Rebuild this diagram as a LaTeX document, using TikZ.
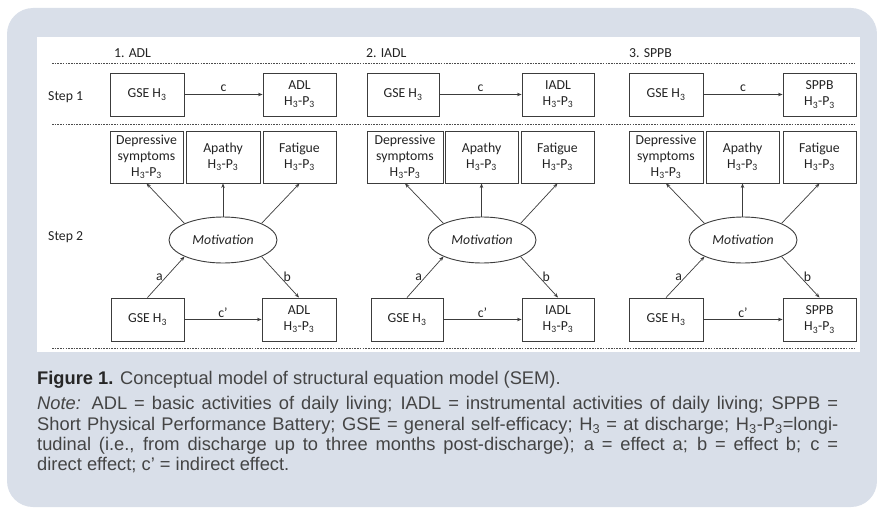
\documentclass[tikz,border=0pt]{standalone}
\usepackage{fontspec}
\setmainfont{Carlito}
\newfontfamily\capfont{Liberation Sans}
\usetikzlibrary{arrows.meta,shapes.geometric}
\definecolor{panelbg}{RGB}{217,223,233}
\definecolor{lncol}{RGB}{60,60,60}
\definecolor{txtcol}{RGB}{35,35,35}
\definecolor{capcol}{RGB}{68,68,68}
\newcommand{\sbs}[1]{\textsubscript{#1}}
\newcommand{\HP}{H\sbs{3}-P\sbs{3}}
\begin{document}
\begin{tikzpicture}[x=1pt,y=-1pt,
  bx/.style={draw=lncol, line width=0.9pt, fill=white, inner sep=0pt, align=center, text=txtcol, font=\fontsize{13.75}{16}\selectfont},
  ell/.style={ellipse, draw=lncol, line width=0.9pt, fill=white, inner sep=0pt, text=txtcol, font=\fontsize{13.75}{16}\selectfont\itshape, minimum width=108pt, minimum height=46pt},
  lbl/.style={text=txtcol, font=\fontsize{13.75}{16}\selectfont, inner sep=0pt},
  arr/.style={-{Stealth[length=4.5pt,width=3.5pt]}, draw=lncol, line width=0.7pt},
  sepline/.style={draw=black!70, line width=0.7pt, dash pattern=on 1.6pt off 1.1pt},
  s1/.style={bx, minimum height=43pt},
  s2/.style={bx, minimum height=52pt}]
\useasboundingbox (0,0) rectangle (877,508);
\fill[panelbg, rounded corners=26pt] (7,8) rectangle (877,507);
\fill[white] (37,37) rectangle (860,352);
\draw[sepline] (52,63) -- (855,63);
\draw[sepline] (52,124) -- (855,124);
\draw[sepline] (52,348) -- (855,348);
% headings
\node[lbl, anchor=west] (h1) at (114,53) {1. ADL};
\node[lbl, anchor=west] (h2) at (366,53) {2. IADL};
\node[lbl, anchor=west] (h3) at (629,53) {3. SPPB};
\node[lbl, anchor=west] (st1) at (48,97) {Step 1};
\node[lbl, anchor=west] (st2) at (48,237) {Step 2};
% ---- column 1
\node[s1, minimum width=74pt] (g1) at (147,94.5) {GSE H\sbs{3}};
\node[s1, minimum width=73pt] (o1) at (299.5,94.5) {ADL\\\HP};
\node[s2, minimum width=73pt] (d1) at (146.5,157) {Depressive\\symptoms\\\HP};
\node[s2, minimum width=74pt] (p1) at (223,157) {Apathy\\\HP};
\node[s2, minimum width=73pt] (f1) at (299.5,157) {Fatigue\\\HP};
\node[ell] (m1) at (223,240) {Motivation};
\node[s1, minimum width=73pt] (g1b) at (147.5,319.5) {GSE H\sbs{3}};
\node[s1, minimum width=74pt] (o1b) at (299,319.5) {ADL\\\HP};
% ---- column 2
\node[s1, minimum width=72pt] (g2) at (403,94.5) {GSE H\sbs{3}};
\node[s1, minimum width=72pt] (o2) at (558,94.5) {IADL\\\HP};
\node[s2, minimum width=76pt] (d2) at (405,157) {Depressive\\symptoms\\\HP};
\node[s2, minimum width=73pt] (p2) at (481.5,157) {Apathy\\\HP};
\node[s2, minimum width=73pt] (f2) at (557.5,157) {Fatigue\\\HP};
\node[ell] (m2) at (482,240) {Motivation};
\node[s1, minimum width=72pt] (g2b) at (407,319.5) {GSE H\sbs{3}};
\node[s1, minimum width=72pt] (o2b) at (558,319.5) {IADL\\\HP};
% ---- column 3
\node[s1, minimum width=74pt] (g3) at (666,94.5) {GSE H\sbs{3}};
\node[s1, minimum width=73pt] (o3) at (819.5,94.5) {SPPB\\\HP};
\node[s2, minimum width=74pt] (d3) at (666,157) {Depressive\\symptoms\\\HP};
\node[s2, minimum width=73pt] (p3) at (742.5,157) {Apathy\\\HP};
\node[s2, minimum width=73pt] (f3) at (819.5,157) {Fatigue\\\HP};
\node[ell] (m3) at (743,240) {Motivation};
\node[s1, minimum width=74pt] (g3b) at (666,319.5) {GSE H\sbs{3}};
\node[s1, minimum width=73pt] (o3b) at (819.5,319.5) {SPPB\\\HP};
% ---- connectors
\foreach \i in {1,2,3}{
  \draw[arr] (g\i) -- (o\i) node[lbl, midway, above=2.5pt] {c};
  \draw[arr] (m\i.north west) -- (d\i.south);
  \draw[arr] (p\i.south |- m\i.north) -- (p\i.south);
  \draw[arr] (m\i.north east) -- (f\i.south);
  \draw[arr] (g\i b.north) -- (m\i.south west) node[lbl, midway, left=3pt] {a};
  \draw[arr] (m\i.south east) -- (o\i b.north) node[lbl, midway, right=3pt] {b};
  \draw[arr] (g\i b) -- (o\i b) node[lbl, midway, above=1.5pt] {c’};
}
% ---- caption
\node[anchor=north west, text width=801pt, align=justify, inner sep=0pt, text=capcol,
  font=\capfont\fontsize{18.3}{20.3}\selectfont] (cap) at (37,371)
  {{\bfseries\color{black!85}Figure 1.} Conceptual model of structural equation model (SEM).\\[5pt]
   \textit{Note:} ADL = basic activities of daily living; IADL = instrumental activities of daily living; SPPB =\linebreak
   Short Physical Performance Battery; GSE = general self-efficacy; H\sbs{3} = at discharge; H\sbs{3}-P\sbs{3}=longi-\linebreak
   tudinal (i.e., from discharge up to three months post-discharge); a = effect a; b = effect b; c =\linebreak
   direct effect; c’ = indirect effect.};
\end{tikzpicture}
\end{document}
